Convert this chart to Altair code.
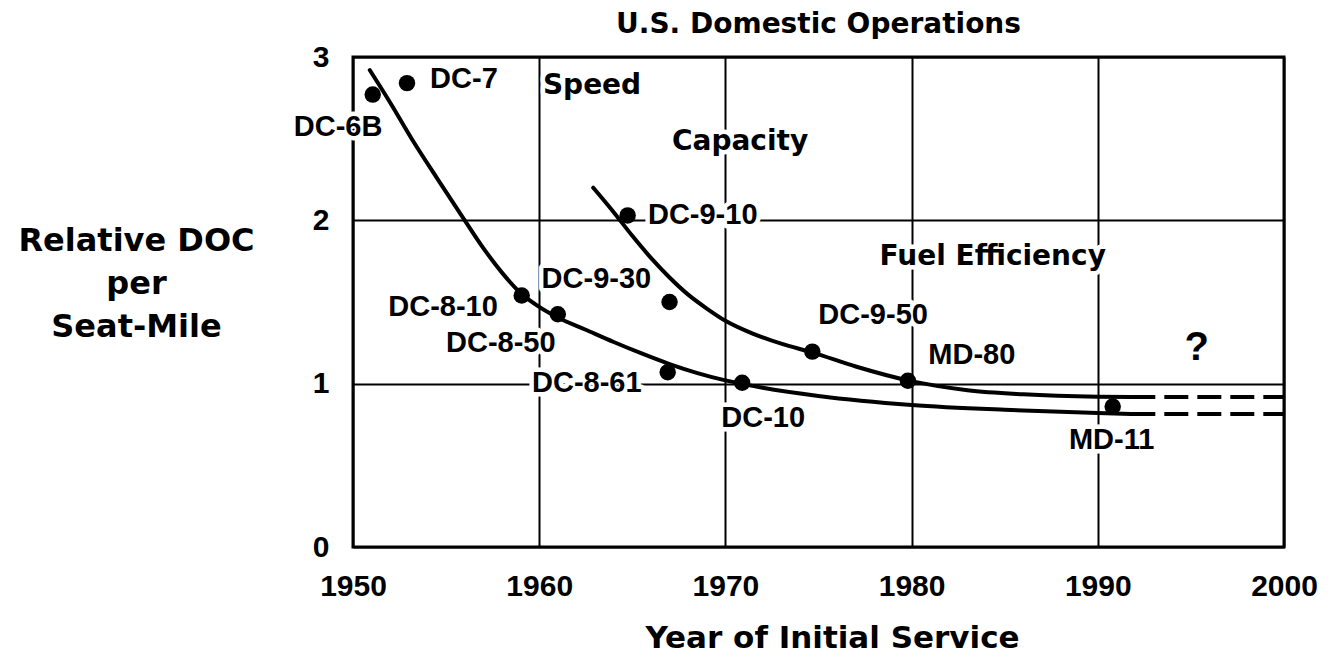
import altair as alt
import pandas as pd

# ---- data ----
aircraft = ["DC-6B", "DC-7", "DC-8-10", "DC-8-50", "DC-9-10", "DC-9-30",
            "DC-8-61", "DC-10", "DC-9-50", "MD-80", "MD-11"]
point_years = [1951.06, 1952.9, 1959.06, 1961.0, 1964.75, 1967.0,
               1966.9, 1970.9, 1974.67, 1979.8, 1990.8]
point_docs = [2.77, 2.84, 1.54, 1.425, 2.03, 1.50,
              1.07, 1.006, 1.196, 1.018, 0.86]

lower_years = [1950.9, 1952.0, 1953.2, 1954.5, 1956.0, 1957.0, 1958.0, 1959.0,
               1960.0, 1961.0, 1962.5, 1964.0, 1965.5, 1967.0, 1968.5, 1970.0,
               1972.0, 1975.0, 1980.0, 1985.0, 1990.0, 1991.8]
lower_docs = [2.92, 2.72, 2.49, 2.26, 2.00, 1.83, 1.68, 1.555,
              1.47, 1.405, 1.33, 1.255, 1.185, 1.12, 1.065, 1.02,
              0.975, 0.925, 0.87, 0.84, 0.82, 0.815]

upper_years = [1962.9, 1964.0, 1965.0, 1966.0, 1967.0, 1968.0, 1969.0, 1970.0,
               1971.5, 1973.0, 1974.7, 1977.0, 1979.8, 1983.0, 1986.0, 1990.0,
               1991.8]
upper_docs = [2.20, 2.05, 1.905, 1.77, 1.65, 1.545, 1.46, 1.385,
              1.305, 1.245, 1.19, 1.105, 1.02, 0.96, 0.935, 0.92,
              0.918]

dash_years = [1991.8, 2000.0]
dash_upper = [0.918, 0.918]
dash_lower = [0.814, 0.814]

label_text = ["DC-6B", "DC-7", "DC-9-10", "DC-9-30",
              "DC-8-10", "DC-8-50", "DC-8-61", "DC-10", "DC-9-50", "MD-80",
              "MD-11"]
label_years = [1949.2, 1954.14, 1965.84, 1960.13,
               1957.78, 1960.88, 1965.5, 1969.78, 1974.99, 1980.9,
               1988.45]
label_docs = [2.57, 2.864, 2.033, 1.641,
              1.471, 1.249, 1.006, 0.788, 1.42, 1.176,
              0.657]
label_align = ["center", "left", "left", "left",
               "right", "right", "right", "left", "left", "left",
               "left"]

section_text = ["Speed", "Capacity", "Fuel Efficiency"]
section_years = [1960.2, 1967.13, 1978.28]
section_docs = [2.82, 2.48, 1.778]

question_text = ["?"]
question_years = [1995.31]
question_docs = [1.219]

chart_title = ["U.S. Domestic Operations"]

x_ticks = [1950, 1960, 1970, 1980, 1990, 2000]
y_ticks = [0, 1, 2, 3]

# ---- tables ----
points_df = pd.DataFrame({"name": aircraft, "year": point_years, "doc": point_docs})
curves_df = pd.concat([
    pd.DataFrame({"curve": "lower", "year": lower_years, "doc": lower_docs}),
    pd.DataFrame({"curve": "upper", "year": upper_years, "doc": upper_docs}),
])
dash_df = pd.concat([
    pd.DataFrame({"curve": "upper", "year": dash_years, "doc": dash_upper}),
    pd.DataFrame({"curve": "lower", "year": dash_years, "doc": dash_lower}),
])
labels_df = pd.DataFrame({"label": label_text, "year": label_years,
                          "doc": label_docs, "align": label_align})
sections_df = pd.DataFrame({"label": section_text, "year": section_years,
                            "doc": section_docs})
q_df = pd.DataFrame({"label": question_text, "year": question_years, "doc": question_docs})
title_df = pd.DataFrame({"title": chart_title})

LABEL_FONT = "Liberation Sans"
TITLE_FONT = "DejaVu Sans"
W, H = 931, 490

x_enc = alt.X("year:Q",
              scale=alt.Scale(domain=[1950, 2000], nice=False, zero=False),
              axis=alt.Axis(values=x_ticks, format="d", grid=True,
                            labelFlush=False,
                            title="Year of Initial Service",
                            titleX=479, titleY=100, titleAlign="center",
                            titleBaseline="alphabetic",
                            titleFont=TITLE_FONT, titleFontSize=31,
                            titleFontWeight="bold", titleColor="black",
                            labelPadding=24))
y_enc = alt.Y("doc:Q",
              scale=alt.Scale(domain=[0, 3], nice=False),
              axis=alt.Axis(values=y_ticks, format="d", grid=True,
                            labelFlush=False,
                            title=["Relative DOC", "per", "Seat-Mile"],
                            titleAngle=0, titleX=-217, titleY=193,
                            titleAlign="center", titleBaseline="alphabetic",
                            titleLineHeight=43,
                            titleFont=TITLE_FONT, titleFontSize=32,
                            titleFontWeight="bold", titleColor="black",
                            labelPadding=24))

base_lines = alt.Chart(curves_df).mark_line(
    interpolate="monotone", color="black", strokeWidth=4, strokeCap="round"
).encode(x=x_enc, y=y_enc, detail="curve:N", order="year:Q")

dashes = alt.Chart(dash_df).mark_line(
    color="black", strokeWidth=4, strokeDash=[24, 9]
).encode(x="year:Q", y="doc:Q", detail="curve:N")

points = alt.Chart(points_df).mark_circle(
    color="black", opacity=1, size=270
).encode(x="year:Q", y="doc:Q")

HALO = dict(color="white", stroke="white", strokeWidth=9, strokeJoin="round")


def label_layer(align, halo):
    props = dict(align=align, baseline="middle", font=LABEL_FONT,
                 fontSize=29, fontWeight="bold")
    props.update(HALO if halo else dict(color="black"))
    return alt.Chart(labels_df).transform_filter(
        alt.datum.align == align
    ).mark_text(**props).encode(x="year:Q", y="doc:Q", text="label:N")


def section_layer(halo):
    props = dict(align="left", baseline="middle", font=TITLE_FONT,
                 fontSize=28, fontWeight="bold")
    props.update(HALO if halo else dict(color="black"))
    return alt.Chart(sections_df).mark_text(**props).encode(
        x="year:Q", y="doc:Q", text="label:N")


halos = [label_layer(a, True) for a in ["left", "right", "center"]] + [section_layer(True)]
texts = [label_layer(a, False) for a in ["left", "right", "center"]] + [section_layer(False)]

question = alt.Chart(q_df).mark_text(
    align="center", baseline="middle", font=LABEL_FONT, fontSize=40,
    fontWeight="bold", color="black"
).encode(x="year:Q", y="doc:Q", text="label:N")

title_mark = alt.Chart(title_df).mark_text(
    align="center", baseline="alphabetic", font=TITLE_FONT, fontSize=28,
    fontWeight="bold", color="black"
).encode(x=alt.value(W / 2), y=alt.value(-24), text="title:N")

chart = alt.layer(
    base_lines, *halos, dashes, points, *texts, question, title_mark
).properties(
    width=W, height=H,
    background="white",
    autosize=alt.AutoSizeParams(type="none"),
    padding={"left": 345, "top": 49, "right": 46, "bottom": 108},
).configure_view(
    stroke="black", strokeWidth=3
).configure_axis(
    domain=False, ticks=False, gridColor="black", gridWidth=2, gridOpacity=1,
    labelFont=LABEL_FONT, labelFontSize=30, labelFontWeight="bold",
    labelColor="black"
)

chart.save("out.html", embed_options={"renderer": "svg", "actions": False})
